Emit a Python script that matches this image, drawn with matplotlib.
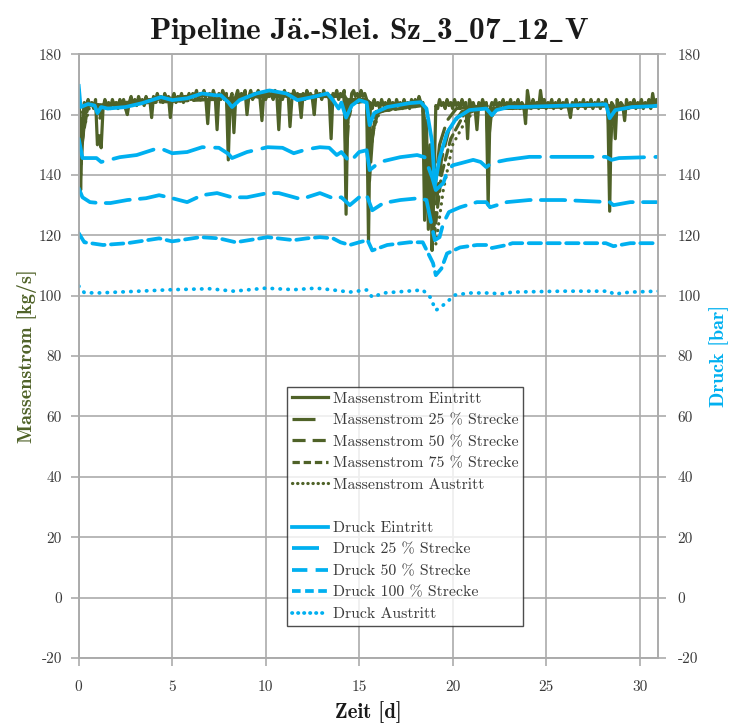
import numpy as np
import matplotlib
matplotlib.use('Agg')
import matplotlib.pyplot as plt
from matplotlib.lines import Line2D

plt.rcParams['font.family'] = ['cmr10', 'DejaVu Serif']
plt.rcParams['mathtext.fontset'] = 'cm'
plt.rcParams['axes.unicode_minus'] = False
plt.rcParams['axes.formatter.use_mathtext'] = False

green = '#4F6228'
blue = '#00B0F0'
txt = '#3A3A3A'
gridc = '#ABABAB'

# Massenstrom Eintritt, one value every 0.1 d (one row per day)
mf_in_rows = [
    [168, 135, 158, 164, 162, 165, 163, 164, 162, 165],
    [150, 153, 149, 162, 165, 163, 164, 162, 165, 163],
    [164, 162, 165, 163, 165, 162, 160, 164, 166, 163],
    [165, 163, 166, 164, 165, 163, 166, 164, 165, 159],
    [166, 164, 167, 165, 166, 164, 167, 165, 166, 159],
    [165, 167, 164, 166, 165, 167, 164, 166, 165, 167],
    [165, 167, 166, 168, 165, 167, 166, 168, 165, 157],
    [167, 165, 168, 166, 155, 167, 165, 168, 166, 167],
    [145, 165, 167, 154, 166, 168, 165, 167, 166, 168],
    [160, 166, 168, 165, 167, 166, 168, 165, 158, 167],
    [165, 168, 166, 167, 165, 168, 166, 155, 167, 165],
    [168, 166, 167, 156, 165, 168, 166, 167, 165, 159],
    [167, 165, 168, 166, 167, 165, 160, 168, 166, 167],
    [165, 168, 166, 167, 165, 152, 167, 166, 168, 165],
    [167, 166, 168, 127, 165, 160, 167, 168, 166, 167],
    [165, 168, 166, 167, 165, 118, 164, 162, 165, 163],
    [164, 162, 165, 163, 164, 162, 165, 163, 164, 162],
    [165, 163, 164, 162, 165, 163, 164, 162, 165, 163],
    [165, 163, 166, 164, 164, 125, 158, 122, 150, 115],
    [135, 163, 162, 165, 163, 164, 162, 165, 163, 164],
    [162, 165, 163, 164, 162, 165, 163, 164, 152, 165],
    [163, 164, 162, 155, 164, 162, 165, 163, 164, 130],
    [162, 164, 163, 165, 162, 164, 163, 165, 162, 164],
    [163, 165, 162, 164, 163, 165, 162, 164, 163, 157],
    [168, 164, 162, 165, 163, 164, 162, 168, 163, 165],
    [162, 164, 163, 165, 162, 164, 163, 165, 162, 164],
    [163, 165, 162, 159, 164, 163, 165, 162, 164, 163],
    [165, 162, 164, 163, 165, 162, 164, 163, 165, 162],
    [164, 163, 165, 162, 128, 164, 163, 152, 165, 162],
    [164, 163, 158, 165, 162, 164, 163, 165, 162, 164],
    [163, 165, 162, 164, 163, 165, 162, 167, 163, 165],
    [164],
]

# (Zeit [d], Massenstrom [kg/s])
mf_25 = [(0, 166), (0.1, 140), (0.3, 163), (1.0, 163), (1.1, 158), (1.3, 163), (4.5, 165.5),
         (7, 166.5), (7.9, 166), (8.0, 158), (8.2, 165), (10.2, 167), (14.2, 166), (14.3, 145),
         (14.5, 165), (15.4, 165), (15.55, 138), (15.8, 160), (17, 163), (18.4, 164), (18.9, 126),
         (19.3, 150), (19.7, 158), (20.2, 162), (21.8, 163), (21.9, 150), (22.1, 162), (28.3, 163),
         (28.4, 148), (28.6, 162), (31, 163.5)]
mf_50 = [(0, 165), (0.15, 148), (0.4, 163), (4.5, 165), (8, 165), (10.2, 166.5), (14.2, 166),
         (14.3, 152), (14.5, 164), (15.45, 164.5), (15.55, 145), (15.9, 161), (18.4, 163.5),
         (18.95, 121), (19.4, 145), (19.8, 155), (20.5, 161), (21.8, 163), (21.9, 155), (22.1, 162),
         (28.3, 163), (28.4, 153), (28.6, 162), (31, 163)]
mf_75 = [(0, 164), (0.2, 152), (0.5, 163), (10.2, 166), (14.25, 166), (14.35, 156), (14.6, 164),
         (15.5, 164.5), (15.6, 150), (16, 161), (18.4, 163), (19.0, 119), (19.4, 140), (19.9, 152),
         (20.6, 160), (21.9, 163), (22.0, 158), (22.3, 162), (28.35, 163), (28.45, 156), (28.7, 162),
         (31, 163)]
mf_out = [(0, 163), (0.3, 156), (0.6, 163), (10.2, 166), (14.3, 166), (14.4, 159), (14.7, 164),
          (15.55, 164.5), (15.65, 153), (16.1, 161), (18.4, 163), (19.1, 117), (19.5, 135),
          (20.0, 150), (20.7, 158), (21.3, 162), (21.95, 163), (22.05, 160), (22.3, 162),
          (28.4, 163), (28.5, 158), (28.8, 162), (31, 163)]

# (Zeit [d], Druck [bar])
p_in = [(0, 169.5), (0.1, 162.5), (0.5, 163.5), (0.85, 163), (1.0, 160.5), (1.2, 162.5), (1.55, 162),
        (2.5, 162.5), (3.4, 163.8), (4.4, 165.8), (5.0, 164.8), (5.8, 165.4), (6.6, 167), (7.3, 166.4),
        (7.6, 166.4), (8.0, 164.1), (8.2, 162.5), (8.6, 164.8), (9.5, 167), (10.2, 168), (11.1, 167),
        (11.7, 164.8), (12.5, 165.8), (13.3, 167), (13.6, 164.8), (13.9, 162), (14.05, 164), (14.3, 159),
        (14.6, 163), (15.0, 164.8), (15.4, 164), (15.56, 156.5), (15.8, 160.5), (16.5, 162.5),
        (17.7, 163.8), (18.3, 164.1), (18.6, 162), (18.9, 151), (19.05, 136.6), (19.3, 145.6),
        (19.7, 154), (20.2, 158.8), (20.9, 161.5), (21.8, 162), (22.1, 159.8), (22.35, 161.5),
        (23.0, 162.5), (23.6, 162.5), (26.1, 163), (28.2, 163.4), (28.4, 158.8), (28.7, 161.5),
        (29.6, 162.5), (30.7, 162.8), (31.0, 163)]
p_25 = [(0, 152), (0.2, 145.6), (0.95, 145.6), (1.2, 144.3), (2.2, 145.9), (3.1, 146.6), (4.3, 149),
        (5.0, 147.2), (5.8, 147.6), (6.6, 149.2), (7.5, 149), (8.0, 147), (8.2, 145.6), (9.0, 147.6),
        (10.1, 149.2), (10.9, 149), (11.5, 147.2), (12.2, 148.5), (12.9, 149.2), (13.4, 149),
        (13.8, 146.6), (14.05, 147.6), (14.5, 144.3), (15.0, 147.6), (15.4, 148.2), (15.56, 141.6),
        (16.1, 144.3), (17.2, 145.9), (18.1, 146.6), (18.5, 145.9), (18.9, 139.3), (19.1, 135),
        (19.5, 137.3), (19.7, 141), (20.0, 143.2), (20.5, 144), (21.1, 145), (21.5, 144.3),
        (21.8, 142.6), (22.1, 144), (22.9, 145), (24.1, 146), (25.9, 146), (28.2, 146), (28.5, 145),
        (28.9, 145.6), (31.0, 146)]
p_50 = [(0, 135.6), (0.2, 132.6), (0.6, 131), (1.1, 130.7), (1.7, 130.7), (2.6, 131.7), (3.6, 132.3),
        (4.3, 133.3), (5.0, 132.3), (5.8, 131), (6.6, 133.3), (7.4, 134), (8.2, 132.6), (9.0, 132.6),
        (10.1, 134), (10.7, 134), (11.7, 132.3), (12.2, 132.6), (12.9, 134), (13.6, 132.3),
        (14.05, 132.6), (14.5, 130), (15.0, 132.6), (15.4, 133.3), (15.7, 128.3), (16.3, 130.7),
        (17.2, 131.7), (18.2, 132.3), (18.6, 131.7), (18.9, 122.7), (19.05, 118.4), (19.3, 119.4),
        (19.5, 124), (19.8, 127.7), (20.4, 129.3), (21.3, 131), (21.8, 131), (22.0, 129.3),
        (22.9, 131), (24.1, 131.7), (25.9, 131.7), (28.4, 131), (28.6, 130), (29.5, 131), (30.9, 131)]
p_100 = [(0, 120.7), (0.3, 117.7), (1.3, 116.8), (2.6, 117.4), (4.3, 119), (5.0, 118), (6.5, 119.4),
         (7.5, 119), (8.4, 117.7), (10.1, 119.4), (11.5, 118.4), (12.2, 119), (12.9, 119.4), (13.6, 119),
         (14.0, 117.7), (14.5, 116.8), (15.0, 117.7), (15.45, 118.4), (15.7, 115), (16.5, 116.8),
         (17.7, 117.7), (18.4, 117.7), (18.95, 110.8), (19.1, 106.8), (19.4, 109), (19.7, 114),
         (20.4, 116), (21.3, 116.8), (21.8, 116.8), (22.1, 115.8), (22.9, 116.8), (23.2, 117.4),
         (25.0, 117.4), (28.2, 117.4), (28.6, 116.4), (29.5, 117.4), (31.0, 117.4)]
p_out = [(0, 103.2), (0.3, 101), (1.0, 100.9), (2.5, 101.3), (5.0, 102), (7.0, 102.3), (8.3, 101.5),
         (10.0, 102.5), (11.5, 102), (12.7, 102.5), (13.6, 101.9), (14.5, 101.2), (15.4, 101.9),
         (15.7, 99.5), (16.3, 100.9), (18.4, 101.9), (18.8, 99.5), (19.1, 95.2), (19.3, 95.9),
         (19.7, 97.9), (20.1, 100.2), (20.9, 100.9), (22.1, 100.9), (22.5, 100.5), (23.2, 101.2),
         (25.9, 101.5), (28.4, 101.5), (28.6, 100.5), (29.5, 101.2), (31.0, 101.5)]

labels_mf = ['Massenstrom Eintritt', 'Massenstrom 25 % Strecke', 'Massenstrom 50 % Strecke',
             'Massenstrom 75 % Strecke', 'Massenstrom Austritt']
labels_p = ['Druck Eintritt', 'Druck 25 % Strecke', 'Druck 50 % Strecke',
            'Druck 100 % Strecke', 'Druck Austritt']

title = r'Pipeline J$\ddot{\mathbf{a}}$.-Slei. Sz$\_$3$\_$07$\_$12$\_$V'
title_plain = 'Pipeline J\u00e4.-Slei. Sz\u02cd3\u02cd07\u02cd12\u02cdV'

# line styles in the plot and (shorter) in the legend
styles = ['-', (0, (11, 3)), (0, (6.5, 2.7)), (0, (3.3, 1.7)), (0, (0.1, 2.0))]
leg_styles = ['-', (0, (7.2, 6)), (0, (4.1, 2.2)), (0, (2.3, 1.2)), (0, (0.1, 1.5))]
leg_caps = ['butt', 'butt', 'butt', 'butt', 'round']

mf_in_v = np.concatenate(mf_in_rows)
mf_in_t = np.arange(len(mf_in_v)) * 0.1

fig = plt.figure(figsize=(7.29, 7.23), dpi=100)
ax1 = fig.add_axes([0.108, 0.090, 0.795, 0.835])
ax2 = ax1.twinx()

lw = 2.3
ax1.plot(mf_in_t, mf_in_v, color=green, lw=lw, ls=styles[0])
for data, ls in zip([mf_25, mf_50, mf_75, mf_out], styles[1:]):
    t, v = zip(*data)
    ax1.plot(t, v, color=green, lw=lw, ls=ls, dash_capstyle='round')
for data, ls in zip([p_in, p_25, p_50, p_100, p_out], styles):
    t, v = zip(*data)
    ax2.plot(t, v, color=blue, lw=lw + 0.4, ls=ls, dash_capstyle='round')

h = [Line2D([], [], color=green, lw=lw, ls=ls, dash_capstyle=cs, label=lab)
     for ls, cs, lab in zip(leg_styles, leg_caps, labels_mf)]
h.append(Line2D([], [], color='none', label=' '))
h += [Line2D([], [], color=blue, lw=lw + 0.4, ls=ls, dash_capstyle=cs, label=lab)
      for ls, cs, lab in zip(leg_styles, leg_caps, labels_p)]

for ax in (ax1, ax2):
    ax.set_ylim(-20, 180)
    ax.set_yticks(np.arange(-20, 181, 20))
    ax.set_xlim(0, 31)
    for s in ax.spines.values():
        s.set_color(gridc)
        s.set_linewidth(1.2)
    ax.tick_params(colors=gridc, labelcolor=txt, labelsize=11, length=6, width=1.2)
ax1.set_xticks(np.arange(0, 31, 5))
ax1.grid(True, color=gridc, lw=1.2)
ax1.set_axisbelow(True)
ax1.tick_params(axis='x', pad=10)
ax1.tick_params(axis='y', pad=6)
ax2.tick_params(axis='y', pad=8)

ax1.set_xlabel('Zeit [d]', fontsize=15, color='#1A1A1A', labelpad=5, family='cmb10')
ax1.set_ylabel('Massenstrom [kg/s]', fontsize=14.5, color=green, labelpad=1.5, family='cmb10')
ax2.set_ylabel('Druck [bar]', fontsize=14.5, color=blue, labelpad=6, family='cmb10')
ttl = ax1.set_title(title, fontsize=22.5, color='#1A1A1A', pad=11, family='cmb10')
try:
    fig.canvas.draw()
except Exception:
    ttl.set_text(title_plain)

leg = ax2.legend(handles=h, loc='lower left', bbox_to_anchor=(0.359, 0.053),
                 fontsize=11.4, frameon=True, fancybox=False, handlelength=2.3,
                 handletextpad=0.3, labelspacing=0.47, borderpad=0.3, borderaxespad=0)
leg.get_frame().set_edgecolor('#222222')
leg.get_frame().set_linewidth(1.0)
for t in leg.get_texts():
    t.set_color(txt)

fig.savefig('out.png', dpi=100)
